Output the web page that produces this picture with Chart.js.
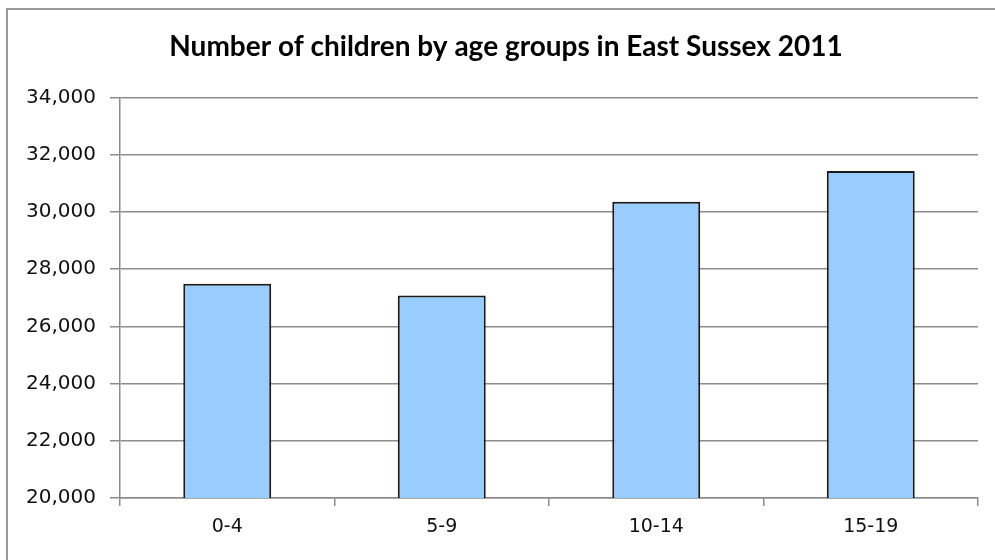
<!DOCTYPE html>
<html>
<head>
<meta charset="utf-8">
<script src="https://cdn.jsdelivr.net/npm/chart.js@4/dist/chart.umd.min.js"></script>
<style>
  html, body { margin: 0; padding: 0; background: #fff; }
  #wrap { position: relative; width: 995px; height: 560px; }
  #frame { position: absolute; left: 6px; top: 8px; width: 1000px; height: 600px;
           border-left: 2px solid #9a9a9a; border-top: 2px solid #9a9a9a; box-sizing: border-box; }
</style>
</head>
<body>
<div id="wrap">
  <div id="frame"></div>
  <canvas id="chart" width="995" height="560"></canvas>
</div>
<script>
// ------------ DATA ---------------
const ageGroups = ["0-4", "5-9", "10-14", "15-19"];
const children = [27490, 27080, 30360, 31430];
const yMin = 20000;
const yMax = 34000;
const yStep = 2000;

const ctx = document.getElementById('chart');

// the title in the original sits a bit right of the canvas centre
const titleShift = {
  id: "titleShift",
  afterLayout(chart) {
    if (chart.titleBlock) chart.titleBlock.left += 34;
  }
};

new Chart(ctx, {
  type: "bar",
  data: {
    labels: ageGroups,
    datasets: [
      {
        label: "Children",
        data: children,
        backgroundColor: "#99ccff",
        borderColor: "#1a1a1a",
        borderWidth: 2,
        categoryPercentage: 1,
        barPercentage: 0.41
      }
    ]
  },
  options: {
    responsive: false,
    animation: false,
    layout: {
      padding: { left: 0, right: 17, top: 0, bottom: 0 }
    },
    plugins: {
      legend: { display: false },
      tooltip: { enabled: false },
      title: {
        display: true,
        text: "Number of children by age groups in East Sussex 2011",
        color: "#000",
        font: { family: "Lato", size: 28, weight: "bold" },
        padding: { top: 30, bottom: 34 }
      }
    },
    scales: {
      x: {
        grid: {
          display: true,
          drawOnChartArea: false,
          offset: true,
          color: "#8c8c8c",
          lineWidth: 1.5,
          tickLength: 8
        },
        border: { color: "#8c8c8c", width: 1.5 },
        ticks: {
          color: "#111",
          font: { family: "DejaVu Sans", size: 19 },
          padding: 10
        },
        afterFit: (s) => { s.height = 62; }
      },
      y: {
        min: yMin,
        max: yMax,
        grid: {
          color: "#8c8c8c",
          lineWidth: 1.5,
          tickLength: 10
        },
        border: { color: "#8c8c8c", width: 1.5 },
        ticks: {
          stepSize: yStep,
          color: "#111",
          font: { family: "DejaVu Sans", size: 20 },
          padding: 14,
          callback: (v) => v.toLocaleString("en-US")
        },
        afterFit: (s) => { s.width = 120; }
      }
    }
  },
  plugins: [titleShift]
});
</script>
</body>
</html>
